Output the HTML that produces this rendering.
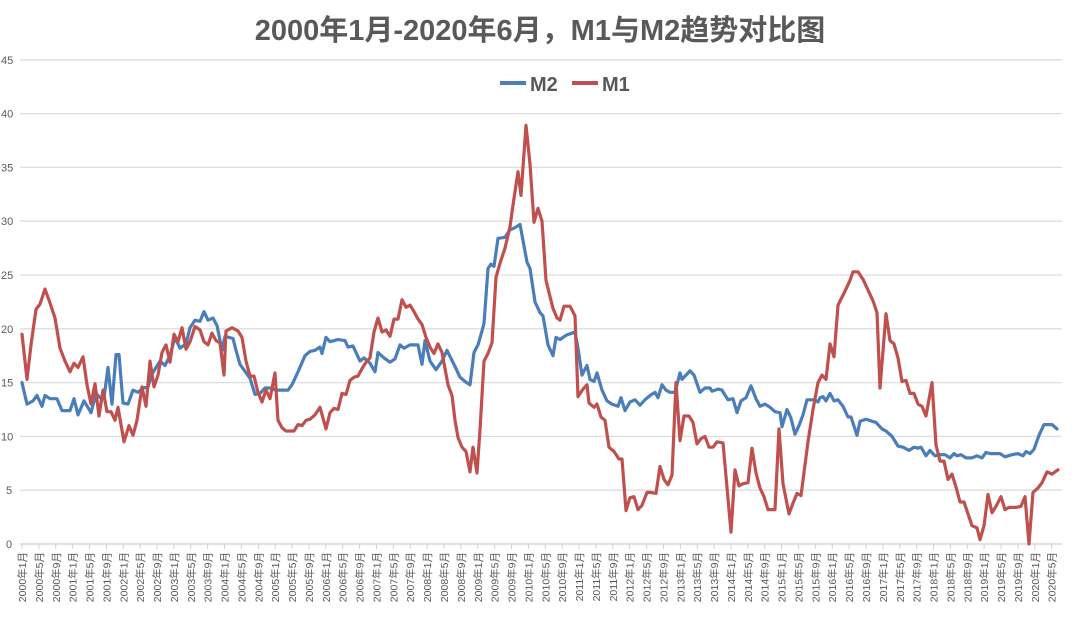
<!DOCTYPE html>
<html><head><meta charset="utf-8">
<style>
html,body{margin:0;padding:0;background:#fff;}
svg{display:block;}
text{font-family:"Liberation Sans","Noto Sans CJK SC",sans-serif;}
</style></head>
<body>
<svg id="s" width="1080" height="621" xmlns="http://www.w3.org/2000/svg">
<text x="540" y="40" text-anchor="middle" font-size="29" font-weight="bold" fill="#595959" font-family="'Liberation Sans','Noto Sans CJK SC',sans-serif">2000年1月-2020年6月，M1与M2趋势对比图</text>
<line x1="500" y1="83" x2="526" y2="83" stroke="#4a7ebb" stroke-width="4"/>
<text x="530" y="91" font-size="20" font-weight="bold" fill="#595959">M2</text>
<line x1="572" y1="83" x2="598" y2="83" stroke="#c0504d" stroke-width="4"/>
<text x="602" y="91" font-size="20" font-weight="bold" fill="#595959">M1</text>
<g id="g"></g>
</svg>
<script>
var g=document.getElementById('g'),ns='http://www.w3.org/2000/svg',h='';
function Y(v){return 544-10.76*v;}
for(var v=0;v<=45;v+=5){var y=Y(v);
 h+='<line x1="20" x2="1062" y1="'+y+'" y2="'+y+'" stroke="'+(v==0?'#cfcfcf':'#dedede')+'" stroke-width="1.3"/>';
 h+='<text x="'+(v<10?6:1)+'" y="'+(y+4)+'" font-size="11" fill="#595959">'+v+'</text>';}
for(var i=0;i<62;i++){var m=i*4,x=22+4.22*m,yr=2000+Math.floor(m/12),mo=m%12+1;
 h+='<line x1="'+x+'" x2="'+x+'" y1="544" y2="549" stroke="#cfcfcf"/>';
 h+='<text transform="translate('+(x+4)+',552) rotate(-90)" text-anchor="end" font-size="10.5" fill="#595959">'+yr+'年'+mo+'月</text>';}
var m2=[22,15,27,13,33,13.3,37,13.8,42,12.8,45,13.8,50,13.5,57,13.5,62,12.4,70,12.4,74,13.5,78,12.0,84,13.3,91,12.2,96,14,100,13.6,104,13.6,108,16.4,112,13,116,17.6,119,17.6,123,13.1,128,13,133,14.3,138,14.1,143,14.5,148,14.6,152,15.8,160,17.0,165,16.6,170,17.5,175,19.2,180,18.2,186,18.6,190,20.1,195,20.8,200,20.7,204,21.6,208,20.8,213,21.0,217,20.3,222,18.0,225,19.3,233,19.1,236,18.0,240,16.7,250,15.4,255,13.9,260,14,265,14.5,270,14.5,276,14.3,288,14.3,292,14.8,298,16,305,17.5,310,17.9,315,18.0,320,18.3,322,17.7,326,19.2,330,18.8,338,19,345,18.9,348,18.3,353,18.4,360,17.0,364,17.3,370,16.8,375,16.0,378,17.8,384,17.3,390,16.9,395,17.2,400,18.5,404,18.2,410,18.5,418,18.5,422,16.7,425,18.9,430,17.0,436,16.2,442,17.0,447,18.0,455,16.5,460,15.5,465,15.1,470,14.8,474,17.8,478,18.5,482,19.8,484,20.5,488,25.6,491,26,494,25.8,498,28.4,505,28.5,510,29.2,515,29.4,520,29.7,524,27.7,527,26.2,530,25.6,535,22.5,540,21.5,543,21.2,548,18.5,553,17.5,556,19.2,560,19.0,566,19.4,575,19.7,578,18.2,582,15.7,587,16.6,590,15.3,594,15.1,597,15.9,602,14.3,607,13.3,612,13.0,618,12.8,621,13.6,625,12.4,630,13.2,635,13.4,640,12.9,645,13.4,650,13.8,655,14.1,658,13.6,662,14.8,666,14.3,670,14.1,675,14.1,680,15.9,682,15.3,687,15.8,690,16.1,694,15.7,700,14.1,705,14.5,710,14.5,712,14.2,718,14.4,722,14.3,728,13.4,733,13.5,737,12.2,741,13.3,746,13.6,751,14.7,756,13.5,760,12.8,765,13.0,770,12.7,775,12.3,780,12.2,782,10.9,787,12.5,791,11.7,795,10.2,799,11.0,803,12.0,807,13.4,815,13.4,818,13.2,820,13.6,823,13.7,826,13.3,830,14.0,834,13.3,838,13.4,843,12.8,848,11.8,851,11.8,857,10.1,860,11.4,866,11.6,872,11.4,876,11.3,882,10.7,886,10.5,892,10.0,898,9.1,903,9.0,909,8.7,914,9.0,918,8.9,921,9.0,926,8.2,930,8.7,935,8.2,940,8.3,945,8.3,950,8.0,954,8.4,957,8.2,961,8.3,966,8.0,972,8.0,977,8.2,982,8.0,986,8.5,990,8.4,1000,8.4,1005,8.1,1012,8.3,1018,8.4,1023,8.2,1026,8.6,1030,8.4,1034,8.8,1039,10.1,1044,11.1,1052,11.1,1057,10.7];
var m1=[22,19.5,27,15.3,31,18.5,36,21.8,40,22.3,45,23.7,50,22.4,55,21,60,18.2,65,17.0,70,16.0,74,16.8,78,16.4,83,17.4,87,14.8,91,13.0,95,14.9,99,11.9,103,14.3,107,12.3,111,12.3,115,11.5,118,12.7,124,9.5,129,11.0,133,10.1,137,11.5,142,14.6,146,12.8,150,17.0,154,14.6,158,15.7,162,17.8,166,18.5,170,16.9,174,19.5,178,18.8,182,20.1,186,18.1,190,18.8,195,20.2,200,19.9,204,18.8,208,18.5,212,19.6,216,18.9,220,18.7,224,15.7,226,19.8,232,20.1,238,19.8,242,19.2,246,17.0,250,15.6,254,15.6,258,14.1,262,13.2,266,14.3,270,13.5,275,15.9,278,11.5,282,10.8,286,10.5,290,10.5,294,10.5,298,11.1,302,11.0,306,11.5,310,11.6,315,12.0,320,12.7,326,10.7,330,12.2,334,12.6,338,12.5,342,14.0,346,13.9,350,15.2,354,15.5,358,15.6,362,16.3,366,16.9,370,17.3,374,19.7,378,21.0,382,19.7,386,19.9,390,19.3,394,20.9,398,20.9,402,22.7,406,22.0,410,22.2,414,21.6,418,20.9,422,20.4,426,19.2,430,18.3,434,17.7,438,18.6,442,17.8,445,16.3,448,14.8,452,13.8,455,11.5,458,9.9,462,9.0,466,8.6,470,6.7,473,9.0,477,6.6,480,10.6,484,17.0,488,17.7,492,18.7,496,24.8,500,26.1,505,27.5,510,29.5,513,31.5,518,34.6,521,32.4,526,38.9,530,35.3,534,29.9,538,31.2,542,30.0,546,24.5,550,23.0,553,21.9,557,21.0,560,20.8,564,22.1,570,22.1,575,21.2,578,13.7,583,14.4,587,14.8,589,13.1,594,12.7,597,13.0,601,11.8,605,11.5,609,9.0,614,8.6,619,7.9,622,7.9,626,3.1,630,4.3,634,4.4,638,3.2,642,3.6,647,4.8,651,4.8,656,4.7,660,7.2,664,6.0,668,5.5,672,6.4,676,15.0,680,9.6,684,11.9,689,11.9,693,11.3,697,9.3,701,9.8,705,10.0,709,9.0,713,9.0,717,9.5,723,9.4,731,1.1,735,6.9,739,5.4,743,5.6,748,5.7,752,8.9,756,6.6,760,5.2,764,4.4,768,3.2,775,3.2,779,10.7,783,5.6,789,2.8,793,3.8,797,4.7,801,4.5,808,9.5,813,12.5,818,15.0,822,15.7,826,15.3,830,18.6,834,17.4,838,22.2,845,23.5,850,24.5,853,25.3,858,25.3,863,24.6,868,23.6,873,22.6,877,21.5,880,14.5,886,21.4,890,18.9,894,18.6,898,17.3,902,15.1,906,15.2,910,14.0,914,14.0,918,13.0,922,12.8,926,11.9,932,15.0,936,9.2,940,7.7,944,7.7,948,6.0,952,6.5,956,5.3,960,3.9,964,3.9,968,2.8,972,1.7,977,1.5,980,0.4,984,1.7,988,4.6,992,2.9,996,3.5,1001,4.4,1005,3.2,1009,3.4,1016,3.4,1021,3.5,1025,4.4,1029,0,1033,4.8,1038,5.2,1042,5.7,1047,6.7,1052,6.5,1058,6.9];
function pl(a,c){var p=[];for(var i=0;i<a.length;i+=2)p.push(a[i]+','+Y(a[i+1]).toFixed(1));
 return '<polyline points="'+p.join(' ')+'" fill="none" stroke="'+c+'" stroke-width="3.2" stroke-linejoin="round" stroke-linecap="round"/>';}
h+=pl(m2,'#4a7ebb')+pl(m1,'#c0504d');
g.innerHTML=h;
</script>
</body></html>
